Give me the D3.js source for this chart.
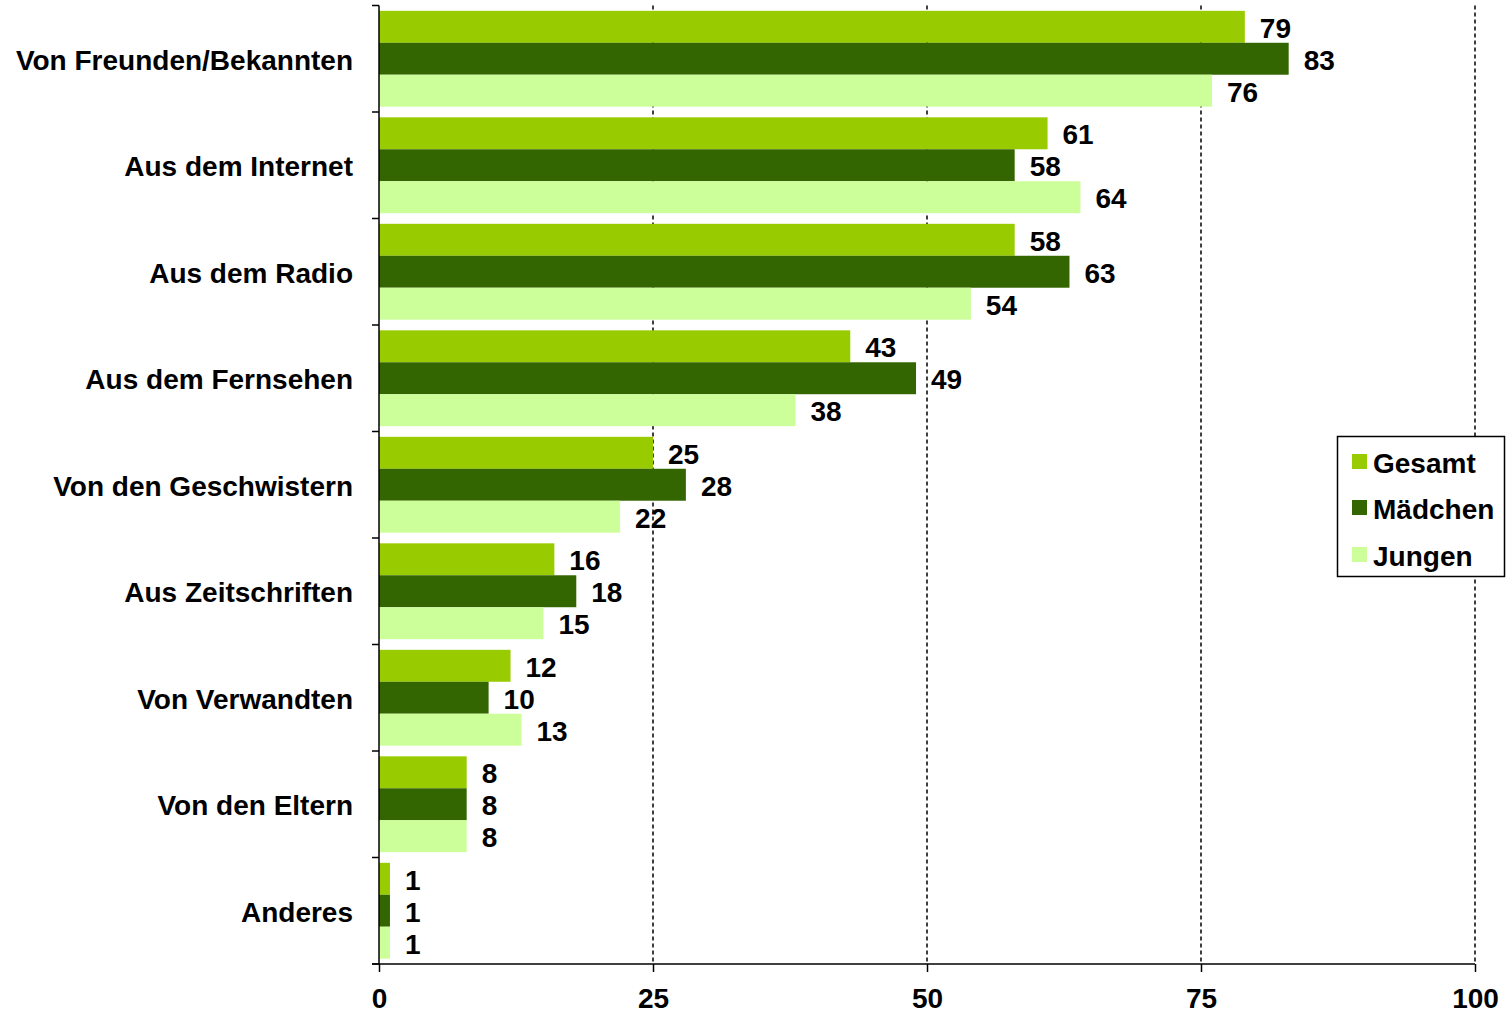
<!DOCTYPE html>
<html><head><meta charset="utf-8">
<script src="https://cdn.jsdelivr.net/npm/d3@7"></script>
<style>body{margin:0;background:#fff}svg{display:block}text{font-family:"Liberation Sans",Arial,sans-serif;font-weight:bold;fill:#000}</style>
</head><body>
<script>
const categories = ["Von Freunden/Bekannten","Aus dem Internet","Aus dem Radio","Aus dem Fernsehen","Von den Geschwistern","Aus Zeitschriften","Von Verwandten","Von den Eltern","Anderes"];
const seriesNames = ["Gesamt","Mädchen","Jungen"];
const gesamt  = [79,61,58,43,25,16,12,8,1];
const maedchen = [83,58,63,49,28,18,10,8,1];
const jungen  = [76,64,54,38,22,15,13,8,1];
const xTicks = [0,25,50,75,100];
const colors = ["#99CC00","#336600","#CCFF99"];
const series = [gesamt, maedchen, jungen];

(function(){
const W = 1508, H = 1014;
const svg = d3.select("body").append("svg").attr("width", W).attr("height", H);
const pL = 379, pR = 1475, pT = 5.5, pB = 964;
const fs = 28;

const x = d3.scaleLinear().domain([0,100]).range([pL, pR]);
const y = d3.scaleBand().domain(categories).range([pT, pB]).paddingInner(0.1).paddingOuter(0.05);
const y1 = d3.scaleBand().domain(seriesNames).range([0, y.bandwidth()]);
const step = (pB - pT) / categories.length;

// gridlines
svg.append("g").selectAll("line").data(xTicks.slice(1)).join("line")
  .attr("x1", d => x(d)).attr("x2", d => x(d)).attr("y1", pT).attr("y2", pB)
  .attr("stroke", "#000").attr("stroke-width", 1.5).attr("stroke-dasharray", "4,3");

// bars
const g = svg.append("g");
categories.forEach((c, i) => {
  seriesNames.forEach((s, j) => {
    const v = series[j][i];
    g.append("rect").attr("x", x(0)).attr("y", y(c) + y1(s))
      .attr("width", x(v) - x(0)).attr("height", y1.bandwidth()).attr("fill", colors[j]);
    g.append("text").attr("x", x(v) + 15).attr("y", y(c) + y1(s) + y1.bandwidth()/2 + 1)
      .attr("dy", "0.36em").attr("font-size", fs).text(v);
  });
});

// y axis
svg.append("line").attr("x1", pL).attr("x2", pL).attr("y1", pT).attr("y2", pB)
  .attr("stroke", "#000").attr("stroke-width", 1.5);
svg.append("g").selectAll("line").data(d3.range(categories.length + 1)).join("line")
  .attr("x1", pL - 7).attr("x2", pL).attr("y1", d => pT + d*step).attr("y2", d => pT + d*step)
  .attr("stroke", "#000").attr("stroke-width", 1.5);
svg.append("g").selectAll("text").data(categories).join("text")
  .attr("x", 353).attr("y", d => y(d) + y.bandwidth()/2 + 1).attr("dy", "0.36em")
  .attr("text-anchor", "end").attr("font-size", fs).text(d => d);

// x axis
const xAxis = d3.axisBottom(x).tickValues(xTicks).tickSize(8).tickSizeOuter(0).tickPadding(16).tickFormat(d3.format("d"));
const ax = svg.append("g").attr("transform", `translate(0,${pB})`).call(xAxis);
ax.select(".domain").attr("stroke", "#000").attr("stroke-width", 1.5).attr("d", `M${pL-7},0H${pR}`);
ax.selectAll(".tick line").attr("stroke", "#000").attr("stroke-width", 1.5);
ax.selectAll(".tick text").attr("font-size", fs).attr("font-family", "Liberation Sans, Arial, sans-serif").attr("font-weight", "bold").attr("fill", "#000");

// legend
const lg = svg.append("g");
lg.append("rect").attr("x", 1337.5).attr("y", 436.5).attr("width", 167).attr("height", 140)
  .attr("fill", "#fff").attr("stroke", "#000").attr("stroke-width", 1.5);
const ly = [462, 508, 555];
seriesNames.forEach((s, j) => {
  lg.append("rect").attr("x", 1352).attr("y", ly[j] - 8).attr("width", 15).attr("height", 15).attr("fill", colors[j]);
  lg.append("text").attr("x", 1373).attr("y", ly[j] + 1).attr("dy", "0.36em").attr("font-size", fs).text(s);
});
})();
</script>
</body></html>
